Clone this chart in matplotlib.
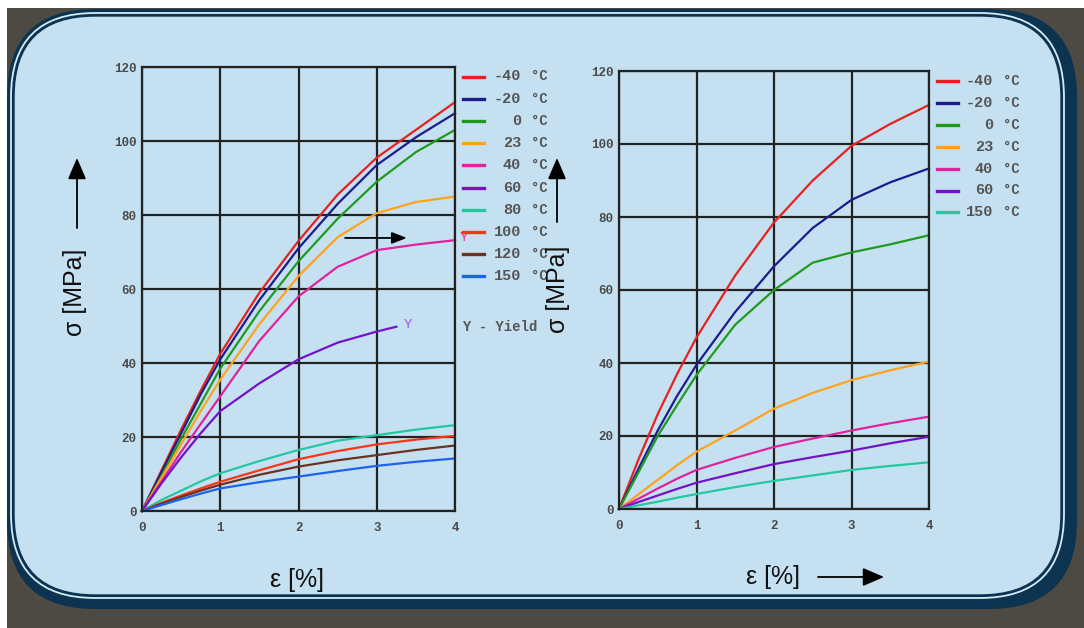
import matplotlib
matplotlib.use("Agg")
import matplotlib.pyplot as plt
from matplotlib.patches import FancyBboxPatch, Rectangle, FancyArrowPatch
from matplotlib.lines import Line2D
from matplotlib.transforms import IdentityTransform

W, H = 1084, 628

# ---------------- data ----------------
strain = [0, 0.25, 0.5, 0.75, 1, 1.5, 2, 2.5, 3, 3.5, 4]

left_temps = ["-40", "-20", "0", "23", "40", "60", "80", "100", "120", "150"]
left_m40 = [0, 11, 22, 32.5, 42.5, 59, 73, 85.5, 95.5, 103, 110.5]
left_m20 = [0, 10.5, 21, 31.5, 41, 57, 71, 83, 93.5, 101, 107.5]
left_0 = [0, 9.5, 19.5, 29, 38.5, 54, 67.5, 79, 89, 97, 103]
left_23 = [0, 9, 18, 27, 35.5, 50.5, 63.5, 74, 80.5, 83.5, 85]
left_40 = [0, 8, 16, 23.5, 31, 46, 58, 66, 70.5, 72, 73.2]
strain_60 = [0, 0.25, 0.5, 0.75, 1, 1.5, 2, 2.5, 3, 3.25]
left_60 = [0, 7.5, 14.5, 21, 27, 34.5, 41, 45.5, 48.5, 49.8]
left_80 = [0, 3, 5.5, 8, 10.2, 13.5, 16.5, 19, 20.5, 22, 23.2]
left_100 = [0, 2.2, 4.2, 6.1, 7.9, 11, 14, 16.2, 18, 19.3, 20.3]
left_120 = [0, 2, 3.8, 5.5, 7.1, 9.8, 12, 13.7, 15.1, 16.5, 17.7]
left_150 = [0, 1.6, 3.2, 4.7, 6.1, 7.8, 9.3, 10.8, 12.2, 13.3, 14.2]

right_temps = ["-40", "-20", "0", "23", "40", "60", "150"]
right_m40 = [0, 13.5, 26, 37, 47, 64, 78.5, 90, 99.5, 105.5, 110.7]
right_m20 = [0, 11, 21.5, 31, 39.5, 54, 66.5, 77, 84.7, 89.5, 93.3]
right_0 = [0, 10, 20, 28.5, 36.7, 50.5, 60, 67.5, 70.3, 72.5, 75]
right_23 = [0, 4, 8, 12, 15.7, 21.5, 27.5, 31.8, 35.3, 38, 40.4]
right_40 = [0, 2.8, 5.6, 8.3, 10.7, 14, 17, 19.3, 21.5, 23.5, 25.3]
right_60 = [0, 1.9, 3.7, 5.5, 7.2, 9.8, 12.3, 14.2, 16, 18, 19.8]
right_150 = [0, 1, 2, 3.1, 4.1, 6, 7.7, 9.2, 10.7, 11.8, 12.8]

x_ticks = [0, 1, 2, 3, 4]
y_ticks = [0, 20, 40, 60, 80, 100, 120]

# ---------------- styles ----------------
C = {"-40": "#e82020", "-20": "#1c1c8c", "0": "#1f9a1f", "23": "#ffa21c",
     "40": "#e0239c", "60": "#7412c8", "80": "#22c8a0", "100": "#ff3414",
     "120": "#6b3222", "150": "#1e62f0"}
RIGHT_C = dict(C)
RIGHT_C["150"] = "#22c8a0"

panel_fill = "#c5e1f1"
navy = "#0c3350"
grid_c = "#222222"
tick_c = "#4a4a4a"
mono = "Liberation Mono"
sans = "Liberation Sans"

fig = plt.figure(figsize=(W / 100, H / 100), dpi=100)
fig.patch.set_facecolor("white")
T = IdentityTransform()


def dy(y):
    return H - y


# background
fig.patches.append(Rectangle((7, 0), W - 7, H - 8, transform=T,
                             facecolor="#4d4943", edgecolor="none", zorder=-20))
fig.patches.append(FancyBboxPatch((7, dy(609)), 1077 - 7, 609 - 9,
                                  boxstyle="round,pad=0,rounding_size=88",
                                  transform=T, facecolor=navy, edgecolor="none", zorder=-19))
fig.patches.append(FancyBboxPatch((11, dy(598)), 1064 - 11, 598 - 13,
                                  boxstyle="round,pad=0,rounding_size=84",
                                  transform=T, facecolor="none", edgecolor="#d5ebf6",
                                  linewidth=1.3, zorder=-18))
fig.patches.append(FancyBboxPatch((14, dy(595)), 1061 - 14, 595 - 16,
                                  boxstyle="round,pad=0,rounding_size=81",
                                  transform=T, facecolor=panel_fill, edgecolor=navy,
                                  linewidth=1.0, zorder=-17))


def make_axes(x0, x1, ytop, ybot):
    ax = fig.add_axes([x0 / W, 1 - ybot / H, (x1 - x0) / W, (ybot - ytop) / H])
    ax.patch.set_visible(False)
    ax.set_xlim(0, 4)
    ax.set_ylim(0, 120)
    ax.set_xticks(x_ticks)
    ax.set_yticks(y_ticks)
    ax.set_xticklabels([str(v) for v in x_ticks])
    ax.set_yticklabels([str(v) for v in y_ticks])
    ax.grid(True, color=grid_c, linewidth=1.6)
    ax.set_axisbelow(True)
    for s in ax.spines.values():
        s.set_color(grid_c)
        s.set_linewidth(1.6)
    ax.tick_params(length=0, colors=tick_c)
    ax.tick_params(axis="x", pad=8)
    ax.tick_params(axis="y", pad=4)
    for lab in ax.get_xticklabels() + ax.get_yticklabels():
        lab.set_fontfamily(mono)
        lab.set_fontweight("bold")
        lab.set_fontsize(9)
        lab.set_color(tick_c)
    return ax


axL = make_axes(142, 455, 67, 511)
axR = make_axes(619, 929, 71, 509)

lw = 1.6
left_series = [left_m40, left_m20, left_0, left_23, left_40, None, left_80,
               left_100, left_120, left_150]
for t, ys in zip(left_temps, left_series):
    if t == "60":
        axL.plot(strain_60, left_60, color=C[t], lw=lw, clip_on=False)
    else:
        axL.plot(strain, ys, color=C[t], lw=lw, clip_on=False)

right_series = [right_m40, right_m20, right_0, right_23, right_40, right_60, right_150]
for t, ys in zip(right_temps, right_series):
    axR.plot(strain, ys, color=RIGHT_C[t], lw=lw, clip_on=False)

# yield markers
axL.text(4.06, 73.8, "Y", color="#e0239c", fontsize=9, family=sans,
         ha="left", va="center", clip_on=False)
axL.text(3.35, 50.3, "Y", color="#9a4ee6", fontsize=9, family=sans,
         ha="left", va="center", clip_on=False)
axL.annotate("", xy=(3.42, 73.8), xytext=(2.56, 73.8),
             arrowprops=dict(arrowstyle="-|>,head_length=0.9,head_width=0.35",
                             color="black", lw=1.3))


# legends
def legend(x_line0, x_line1, x_num, x_unit, y0, step, temps, cmap):
    for i, t in enumerate(temps):
        y = y0 + i * step
        fig.add_artist(Line2D([x_line0, x_line1], [dy(y), dy(y)], transform=T,
                              color=cmap[t], lw=2.4))
        fig.text(x_num / W, 1 - y / H, t, ha="right", va="center",
                 family=mono, fontweight="bold", fontsize=11, color="#555555")
        fig.text(x_unit / W, 1 - y / H, "°C", ha="left", va="center",
                 family=mono, fontweight="bold", fontsize=10, color="#555555")


legend(463, 484, 521, 531, 76.5, 22.2, left_temps, C)
legend(937, 958, 993, 1003, 81, 21.9, right_temps, RIGHT_C)
fig.text(462 / W, 1 - 327 / H, "Y - Yield", ha="left", va="center",
         family=mono, fontweight="bold", fontsize=10, color="#555555")

# axis labels
fig.text(75 / W, 1 - 292 / H, "σ [MPa]", rotation=90, ha="center", va="center",
         family=sans, fontsize=18, color="#111111")
fig.text(558 / W, 1 - 289 / H, "σ [MPa]", rotation=90, ha="center", va="center",
         family=sans, fontsize=18, color="#111111")
fig.text(297 / W, 1 - 580 / H, "ε [%]", ha="center", va="center",
         family=sans, fontsize=18, color="#111111")
fig.text(773 / W, 1 - 577 / H, "ε [%]", ha="center", va="center",
         family=sans, fontsize=18, color="#111111")


def arrow(x0, y0, x1, y1):
    fig.add_artist(FancyArrowPatch(
        (x0, dy(y0)), (x1, dy(y1)), transform=T,
        arrowstyle="-|>,head_length=6.5,head_width=2.8", mutation_scale=2,
        shrinkA=0, shrinkB=0, color="black", lw=1.3))


arrow(77, 228, 77, 158)
arrow(557, 222, 557, 158)
arrow(818, 577, 884, 577)

fig.savefig("out.png", dpi=100)
